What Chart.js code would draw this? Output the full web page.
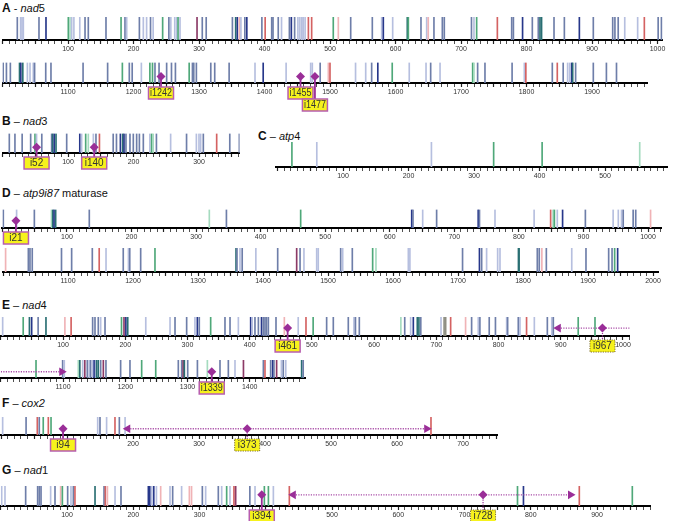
<!DOCTYPE html>
<html>
<head>
<meta charset="utf-8">
<script src="https://cdn.jsdelivr.net/npm/chart.js@4.4.1/dist/chart.umd.min.js"></script>
<style>
  body { margin: 0; background: #fff; width: 673px; height: 521px; position: relative; overflow: hidden; font-family: "Liberation Sans", Arial, sans-serif; }
  .ttl { position: absolute; font-size: 11px; line-height: 11px; color: #111; white-space: nowrap; }
  .ttl b { font-size: 12px; }
  canvas { position: absolute; }
</style>
</head>
<body>
<div class="ttl" style="left:2px;top:2.6px"><b>A</b> - <i>nad</i>5</div>
<div class="ttl" style="left:2px;top:115.6px"><b>B</b> – <i>nad</i>3</div>
<div class="ttl" style="left:258px;top:130.6px"><b>C</b> – <i>atp</i>4</div>
<div class="ttl" style="left:2px;top:187.6px"><b>D</b> – <i>atp9i87</i> maturase</div>
<div class="ttl" style="left:2px;top:299.6px"><b>E</b> – <i>nad</i>4</div>
<div class="ttl" style="left:2px;top:397.6px"><b>F</b> – <i>cox2</i></div>
<div class="ttl" style="left:2px;top:464.6px"><b>G</b> – <i>nad</i>1</div>

<script>
/* ==========================================
   Editing sites per gene (nt position + site class)
   each line of *Types matches the same line of *Sites
========================================== */

const nad5Sites = [
    22.6, 27.7, 29.8, 31.8, 55.7, 66.4, 100.5, 103, 105.6, 109, 118, 126, 131, 158, 181, 187, 189.6,
    209, 215, 220, 226, 230, 244.5, 254, 257, 263, 266, 268, 271, 297, 305, 311, 351, 356, 358.5, 361.6, 364,
    370, 373, 396, 401, 411, 413, 421, 426, 438, 441, 446, 451, 454, 457, 459, 462, 467, 472, 505, 512.7,
    531.6, 564.6, 578.9, 581.4, 595.7, 618, 619.6, 638.9, 647.6, 650, 658.7, 671.5, 674.5, 716, 719.8, 723.9,
    755.5, 777.4, 780, 794, 808.9, 818, 820.6, 823, 842, 857.8, 880.7, 902, 931.6, 935, 940, 950, 969.7,
    979.9, 1001, 1006, 1012, 1026, 1028, 1031, 1038, 1042, 1047, 1049, 1066, 1074, 1123, 1160.5, 1183,
    1193.6, 1198, 1212, 1225, 1229, 1232.8, 1239, 1250.6, 1258, 1264, 1285, 1290, 1292, 1296, 1318, 1324,
    1346, 1385.5, 1398, 1433, 1470.5, 1473, 1485, 1497.5, 1500, 1539, 1554.5, 1563.6, 1573, 1595, 1621,
    1646.6, 1653.7, 1668, 1717.8, 1719.8, 1725.4, 1736.6, 1778, 1796.7, 1799, 1839.4, 1847, 1856, 1862.8,
    1866, 1869, 1870.5, 1875, 1902, 1922, 1937.4
];
const nad5Types = [
    "S", "L", "L", "L", "S", "N", "G", "P", "L", "L", "L", "S", "S", "S", "G", "S", "L",
    "S", "L", "L", "S", "L", "G", "S", "L", "L", "L", "G", "L", "M", "S", "S", "S", "T", "N", "K", "L",
    "S", "N", "S", "R", "S", "S", "S", "L", "S", "N", "S", "L", "L", "L", "L", "L", "R", "R", "G", "K",
    "S", "S", "L", "N", "L", "T", "G", "S", "L", "K", "S", "S", "S", "S", "L", "G",
    "R", "S", "S", "N", "S", "S", "T", "T", "S", "S", "N", "S", "S", "S", "S", "L", "L",
    "R", "S", "S", "S", "T", "N", "T", "L", "L", "L", "S", "S", "S", "S", "S", "G",
    "S", "S", "L", "G", "G", "S", "S", "S", "S", "S", "G", "S", "S", "S", "S", "S",
    "S", "L", "N", "L", "L", "L", "S", "K", "R", "L", "L", "S", "N", "G", "L",
    "L", "S", "L", "G", "P", "S", "S", "S", "L", "R", "S", "R", "S", "L",
    "L", "N", "T", "S", "S", "S", "S"
];
const nad5Introns = [1242, 1455, 1477];
const nad5Dotted = [false, false, false];
const nad5BoxRow = [0, 0, 1];

const nad3Sites = [
    10.4, 19, 30, 43, 49.6, 52, 60, 75, 76.6, 79, 81.7, 98, 118, 120.8, 127, 131, 138.7, 142.7,
    148, 169, 174, 180, 183.5, 185.5, 188.5, 194.6, 199.7, 204.8, 209, 215, 225, 227.7, 230, 235, 256.7, 281,
    296, 300, 302.5, 306.6, 327, 347, 361.6
];
const nad3Types = [
    "S", "S", "S", "S", "G", "L", "S", "S", "T", "N", "T", "S", "N", "L", "G", "P", "L", "S",
    "R", "S", "S", "N", "T", "N", "S", "S", "S", "S", "S", "S", "L", "G", "P", "S", "L", "S",
    "L", "L", "L", "S", "R", "S", "S"
];
const nad3Introns = [52, 140];
const nad3Dotted = [false, false];
const nad3BoxRow = [0, 0];

const atp4Sites = [22, 60, 235, 330, 404, 553];
const atp4Types = ["G", "L", "L", "G", "G", "P"];

const atp9Sites = [
    1.4, 22, 49.5, 76, 78, 80, 82.5, 134.6, 320.5, 347, 462, 634, 636, 651, 672.6, 737, 739, 763,
    823.6, 849.2, 853, 855, 859.5, 867.7, 903, 946, 954, 959, 961.6, 977, 981, 1004, 1039, 1041.5, 1045,
    1090, 1105.6, 1137.4, 1148, 1158.5, 1185, 1193, 1195, 1211.8, 1233.8, 1358.5, 1360, 1364.6, 1368, 1389,
    1422.6, 1451.8, 1457, 1463, 1482.6, 1485, 1519.5, 1522.6, 1537.4, 1568.7, 1573.8, 1623.6, 1626, 1707,
    1733, 1736.4, 1744, 1761, 1764.6, 1793, 1794, 1822, 1825, 1829, 1835.9, 1875, 1896.9, 1931.8, 1937,
    1941, 1945.6
];
const atp9Types = [
    "S", "L", "S", "P", "T", "N", "T", "S", "P", "S", "G", "N", "S", "L", "S", "N", "S", "L",
    "L", "R", "P", "G", "L", "N", "S", "L", "L", "L", "S", "S", "S", "K", "S", "S", "S",
    "S", "S", "S", "R", "L", "S", "L", "S", "S", "G", "T", "S", "L", "S", "L",
    "S", "M", "S", "L", "L", "L", "S", "L", "S", "G", "P", "L", "L", "S",
    "N", "S", "L", "L", "L", "T", "T", "S", "S", "K", "S", "L", "S", "S", "S",
    "G", "N"
];
const atp9Introns = [21];
const atp9Dotted = [false];
const atp9BoxRow = [0];

const nad4Sites = [
    3, 36, 46, 49.6, 60, 72.6, 103, 113, 147.6, 151.4, 156.7, 160.5, 167.5, 194, 198, 201, 204,
    233, 272, 280, 298.7, 312, 315.9, 319, 337.3, 360.3, 368.4, 381.8, 401.6, 404, 408.5, 414, 419, 421.9,
    424.6, 427, 430, 442.3, 455.7, 478, 490.5, 502, 523.7, 534.4, 558.5, 567.6, 570, 576.2, 643, 649.2,
    658.7, 663, 669.4, 672, 675, 707.5, 712.5, 715, 723, 747, 756.7, 767.4, 770, 785, 795, 813, 814.6, 831.7,
    834.4, 845, 857.5, 878.4, 885.5, 888, 928, 955, 1056.6, 1099.4, 1102, 1124.6, 1127, 1131.6, 1135, 1139,
    1142, 1144.4, 1147.6, 1150, 1152.6, 1154, 1156.7, 1160.5, 1164.8, 1169, 1192.6, 1207.6, 1226.4, 1249,
    1285.3, 1290.7, 1293, 1295, 1300.4, 1316, 1332, 1352.3, 1365.7, 1376.4, 1390, 1422, 1424.6, 1433.7,
    1437, 1439, 1443.3, 1451, 1454, 1458, 1483.5, 1486
];
const nad4Types = [
    "L", "G", "T", "N", "S", "T", "K", "R", "S", "S", "S", "L", "S", "G", "M", "N", "T",
    "L", "L", "S", "S", "L", "N", "S", "G", "S", "S", "L", "N", "L", "S", "S", "N", "S",
    "S", "S", "S", "S", "K", "L", "R", "G", "S", "S", "S", "L", "S", "S", "P", "S",
    "L", "N", "T", "T", "S", "L", "Y", "Y", "R", "K", "S", "L", "S", "S", "S", "L", "S", "S",
    "L", "R", "L", "S", "L", "S", "G", "G", "G", "S", "L", "P", "T", "L", "M", "S",
    "L", "S", "L", "N", "L", "T", "T", "S", "M", "S", "S", "S", "G", "G",
    "S", "S", "M", "T", "S", "S", "P", "S", "S", "L", "M", "S", "R", "S",
    "N", "S", "M", "L", "S", "L", "T", "S"
];
const nad4Introns = [461, 967, 1339];
const nad4Dotted = [false, true, false];
const nad4BoxRow = [0, 0, 0];
const nad4Span = [896, 1098];

const cox2Sites = [2.5, 38, 55, 58, 64, 71.7, 75.8, 146.5, 150, 160, 172.7, 179.3, 188, 651.5];
const cox2Types = ["L", "S", "R", "S", "G", "R", "G", "L", "S", "L", "R", "S", "L", "R"];
const cox2Introns = [94, 373];
const cox2Dotted = [false, true];
const cox2BoxRow = [0, 0];
const cox2Span = [192, 645];

const nad1Sites = [
    1.4, 6.4, 37.6, 55.7, 58.2, 60.8, 75.3, 81.9, 90.4, 93, 101, 106, 109.6, 112, 142.3, 155.9,
    157.9, 161, 172.5, 181.5, 222.8, 225, 228, 231, 235, 241.4, 255.5, 259.5, 273, 284.7, 288, 304.3, 309.3,
    328.4, 333.5, 341, 346, 352, 354.6, 376, 383.8, 397.9, 404, 411.5, 435.6, 780, 789, 873.3, 953.3
];
const nad1Types = [
    "L", "L", "S", "S", "S", "S", "L", "S", "K", "G", "S", "L", "S", "R", "T", "S",
    "R", "K", "L", "S", "N", "N", "L", "N", "L", "K", "L", "S", "L", "K", "K", "S", "L",
    "S", "L", "G", "L", "R", "M", "S", "L", "G", "G", "L", "R", "G", "N", "R", "G"
];
const nad1Introns = [394, 728];
const nad1Dotted = [false, true];
const nad1BoxRow = [0, 0];
const nad1Span = [441.6, 860];

/* ==========================================
   Styles
========================================== */

const typeColor = {
    S: "#6e7ea9", L: "#b6bfdf", N: "#27378a", G: "#4fa879", P: "#a5dbbf",
    R: "#d46262", K: "#f0b3b6", T: "#2a6f73", M: "#8c3a66", Y: "#8e8e82"
};
const PURPLE = "#9a2e98";
const PAD = 14;
const SCALE_H = 32;
const BOX_W = 25, BOX_H = 12, BOX_GAP = 4;

/* one entry per drawn track: gene data + where the track sits */
const tracks = [
    { sites: nad5Sites, types: nad5Types, introns: nad5Introns, dotted: nad5Dotted, boxRow: nad5BoxRow,
      min: 0, max: 1008, zeroPx: 2.5, k: 0.655, axisY: 40, lineH: 23, lvl: 8 },
    { sites: nad5Sites, types: nad5Types, introns: nad5Introns, dotted: nad5Dotted, boxRow: nad5BoxRow,
      min: 1000, max: 1985, zeroPx: -652.5, k: 0.655, axisY: 83, lineH: 25, lvl: 8 },
    { sites: nad3Sites, types: nad3Types, introns: nad3Introns, dotted: nad3Dotted, boxRow: nad3BoxRow,
      min: 0, max: 362, zeroPx: 2.5, k: 0.655, axisY: 153, lineH: 24, lvl: 7 },
    { sites: atp4Sites, types: atp4Types, introns: [], dotted: [], boxRow: [],
      min: -3, max: 596, zeroPx: 277.5, k: 0.655, axisY: 167, lineH: 25, lvl: 8 },
    { sites: atp9Sites, types: atp9Types, introns: atp9Introns, dotted: atp9Dotted, boxRow: atp9BoxRow,
      min: 0, max: 1021, zeroPx: 2.4, k: 0.6456, axisY: 228, lineH: 23, lvl: 9 },
    { sites: atp9Sites, types: atp9Types, introns: atp9Introns, dotted: atp9Dotted, boxRow: atp9BoxRow,
      min: 1000, max: 2008, zeroPx: -647, k: 0.65, axisY: 272, lineH: 24, lvl: 9 },
    { sites: nad4Sites, types: nad4Types, introns: nad4Introns, dotted: nad4Dotted, boxRow: nad4BoxRow, span: nad4Span,
      min: 0, max: 1011, zeroPx: 0.8, k: 0.6222, axisY: 336, lineH: 24, lvl: 10 },
    { sites: nad4Sites, types: nad4Types, introns: nad4Introns, dotted: nad4Dotted, boxRow: nad4BoxRow, span: nad4Span,
      min: 1000, max: 1489, zeroPx: -621.4, k: 0.6222, axisY: 378, lineH: 23, lvl: 8 },
    { sites: cox2Sites, types: cox2Types, introns: cox2Introns, dotted: cox2Dotted, boxRow: cox2BoxRow, span: cox2Span,
      min: 0, max: 753, zeroPx: 1, k: 0.66, axisY: 435, lineH: 23, lvl: 8 },
    { sites: nad1Sites, types: nad1Types, introns: nad1Introns, dotted: nad1Dotted, boxRow: nad1BoxRow, span: nad1Span,
      min: 0, max: 980, zeroPx: 0.75, k: 0.6625, axisY: 506, lineH: 25, lvl: 14 }
];

/* ==========================================
   Build one chart per track
========================================== */

function drawTrack(t) {

    const areaLeft = t.zeroPx + t.k * t.min;
    const areaWidth = t.k * (t.max - t.min);
    const canvasLeft = Math.floor(areaLeft) - PAD;
    const canvasWidth = Math.ceil(areaLeft + areaWidth) + PAD - canvasLeft;
    const padLeft = areaLeft - canvasLeft;
    const padRight = canvasWidth - padLeft - areaWidth;

    const canvas = document.createElement("canvas");
    canvas.width = canvasWidth;
    canvas.height = t.lineH + SCALE_H;
    canvas.style.left = canvasLeft + "px";
    canvas.style.top = (t.axisY - t.lineH) + "px";
    document.body.appendChild(canvas);

    const inRange = v => v >= t.min && v <= t.max;
    const lvl = t.lvl / t.lineH;

    const siteData = [];
    const siteColors = [];
    t.sites.forEach((v, i) => {
        if (inRange(v)) {
            siteData.push({ x: v, y: [0, 1] });
            siteColors.push(typeColor[t.types[i]]);
        }
    });

    const marks = t.introns
        .map((v, i) => ({ v: v, dotted: t.dotted[i], row: t.boxRow[i] }))
        .filter(m => inRange(m.v));

    const datasets = [{
        type: "line",
        order: 0,
        showLine: false,
        data: marks.map(m => ({ x: m.v, y: lvl })),
        pointStyle: "rectRot",
        pointRadius: 4.5,
        pointBackgroundColor: PURPLE,
        pointBorderWidth: 0
    }];

    if (t.span && t.span[0] <= t.max && t.span[1] >= t.min) {
        const a = Math.max(t.span[0], t.min);
        const b = Math.min(t.span[1], t.max);
        datasets.push({
            type: "line",
            order: 1,
            data: [{ x: a, y: lvl }, { x: b, y: lvl }],
            borderColor: "#a94ca7",
            borderWidth: 1.3,
            borderDash: [1.2, 1.3],
            pointStyle: "triangle",
            pointRadius: [t.span[0] >= t.min ? 5 : 0, t.span[1] <= t.max ? 5 : 0],
            pointRotation: [-90, 90],
            pointBackgroundColor: PURPLE,
            pointBorderWidth: 0
        });
    }

    datasets.push({
        type: "bar",
        order: 2,
        data: siteData,
        backgroundColor: siteColors,
        barThickness: 1,
        borderWidth: 0
    });

    new Chart(canvas.getContext("2d"), {

        type: "bar",

        data: { datasets: datasets },

        options: {
            responsive: false,
            animation: false,
            events: [],
            layout: { padding: { left: padLeft, right: padRight, top: 0, bottom: 0 } },
            plugins: { legend: { display: false }, tooltip: { enabled: false } },
            scales: {
                x: {
                    type: "linear",
                    min: t.min,
                    max: t.max,
                    offset: false,
                    afterBuildTicks: s => {
                        s.ticks = s.ticks.filter(tk => Math.abs(tk.value % 10) < 1e-6);
                    },
                    afterFit: s => {
                        s.height = SCALE_H;
                        s.paddingLeft = 0;
                        s.paddingRight = 0;
                    },
                    ticks: {
                        stepSize: 10,
                        includeBounds: false,
                        autoSkip: false,
                        maxRotation: 0,
                        padding: 1,
                        color: "#333",
                        font: { family: "Liberation Sans", size: 7 },
                        callback: v => (v % 100 === 0 && v > 0 && v > t.min + 1) ? String(v) : ""
                    },
                    grid: {
                        offset: false,
                        drawOnChartArea: false,
                        drawTicks: true,
                        tickLength: 4,
                        tickColor: "#222",
                        tickWidth: c => (c.tick && c.tick.value % 50 === 0) ? 1.2 : 0.8
                    },
                    border: { display: true, color: "#000", width: 2 }
                },
                y: { min: 0, max: 1, display: false }
            }
        },

        plugins: [{
            id: "intronLabels",
            afterDatasetsDraw(chart) {
                const ctx = chart.ctx;
                const xs = chart.scales.x;
                const ys = chart.scales.y;
                const base = chart.chartArea.bottom;
                marks.forEach(m => {
                    const x = xs.getPixelForValue(m.v);
                    const yd = ys.getPixelForValue(lvl);
                    const top = base + BOX_GAP + m.row * BOX_H;
                    ctx.save();
                    ctx.strokeStyle = PURPLE;
                    ctx.lineWidth = m.dotted ? 1.2 : 1.8;
                    ctx.setLineDash(m.dotted ? [1.2, 1.2] : []);
                    ctx.beginPath();
                    ctx.moveTo(x, yd);
                    ctx.lineTo(x, top);
                    ctx.stroke();
                    ctx.fillStyle = "#f6f21c";
                    ctx.fillRect(x - BOX_W / 2, top, BOX_W, BOX_H);
                    ctx.strokeStyle = m.dotted ? "#7a6a2a" : "#b75db0";
                    ctx.lineWidth = m.dotted ? 1 : 1.5;
                    ctx.strokeRect(x - BOX_W / 2, top, BOX_W, BOX_H);
                    ctx.setLineDash([]);
                    ctx.fillStyle = "#333";
                    ctx.font = '10px "Liberation Sans"';
                    ctx.textAlign = "center";
                    ctx.textBaseline = "middle";
                    ctx.fillText("i" + m.v, x, top + BOX_H / 2 + 0.5, BOX_W - 3);
                    ctx.restore();
                });
            }
        }]

    });

}

tracks.forEach(drawTrack);
</script>
</body>
</html>
